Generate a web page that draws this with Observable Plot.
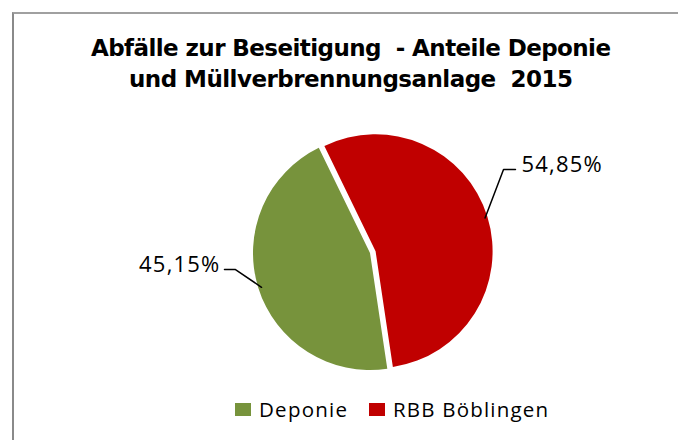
<!DOCTYPE html>
<html><head><meta charset="utf-8">
<script src="https://cdn.jsdelivr.net/npm/d3@7"></script>
<script src="https://cdn.jsdelivr.net/npm/@observablehq/plot@0.6"></script>
<style>
body{margin:0;background:#fff;}
#wrap{position:relative;width:678px;height:440px;overflow:hidden;font-family:"Open Sans",sans-serif;background:#fff;}
#frame{position:absolute;left:12px;top:12px;width:700px;height:500px;border-left:2px solid #8a8a8a;border-top:2px solid #a0a0a0;}
.tl{position:absolute;left:0;width:702px;text-align:center;font-family:"DejaVu Sans",sans-serif;font-weight:bold;font-size:23px;line-height:31px;color:#000;white-space:pre;}
.tl span{display:inline-block;}
#chart{position:absolute;left:0;top:100px;}
.sw{position:absolute;top:403px;width:16px;height:13px;}
.lt{position:absolute;top:395px;font-family:"Open Sans",sans-serif;font-size:20.5px;line-height:28px;color:#000;white-space:pre;}
</style></head>
<body>
<div id="wrap">
  <div id="frame"></div>
  <div id="chart"></div>
</div>
<script>
const titleLines = ["Abfälle zur Beseitigung  - Anteile Deponie", "und Müllverbrennungsanlage  2015"];
const categories = ["Deponie", "RBB Böblingen"];
const shares = [45.15, 54.85];
const labels = ["45,15%", "54,85%"];
const colors = ["#77933C", "#C00000"];

// layout (pixels / radius units)
const titleTops = [33, 64];
const titleWidths = [520, 444];
const legendSwatchX = [235, 369];
const legendTextX = [259, 393];
const legendTextW = [88, 155];
const startAngleDeg = 171.5;
const explode = [0, 0.05];
const leaderElbow = [[-1.154, -0.137], [1.137, 0.718]];
const leaderEnd = [[-1.248, -0.137], [1.239, 0.718]];

const wrap = document.getElementById("wrap");

function fit(span, target) {
  span.style.letterSpacing = "0px";
  const w = span.getBoundingClientRect().width;
  const n = [...span.textContent].length;
  const ls = (target - w) / (n - 1);
  span.style.letterSpacing = ls + "px";
  return ls;
}

titleLines.forEach((t, i) => {
  const div = document.createElement("div");
  div.className = "tl"; div.style.top = titleTops[i] + "px";
  const sp = document.createElement("span"); sp.textContent = t;
  div.appendChild(sp); wrap.appendChild(div);
  const ls = fit(sp, titleWidths[i]);
  sp.style.marginRight = (-ls) + "px";
});

const data = categories.map((c, i) => ({cat: c, value: shares[i], label: labels[i], color: colors[i]}));
const a0 = startAngleDeg * Math.PI / 180;
const arcs = d3.pie().sort(null).value(d => d.value).startAngle(a0).endAngle(a0 + 2 * Math.PI)(data);

function sliceMark(index, scales) {
  const g = d3.create("svg:g");
  const r = scales.x(1) - scales.x(0);
  const arc = d3.arc().innerRadius(0).outerRadius(r);
  arcs.forEach((a, i) => {
    const mid = (a.startAngle + a.endAngle) / 2;
    const e = explode[i];
    const cx = scales.x(e * Math.sin(mid)), cy = scales.y(e * Math.cos(mid));
    g.append("path").attr("d", arc(a)).attr("transform", `translate(${cx},${cy})`).attr("fill", a.data.color);
  });
  return g.node();
}

const leaders = [];
const labelPts = [];
arcs.forEach((a, i) => {
  const mid = (a.startAngle + a.endAngle) / 2;
  const e = explode[i];
  const ox = e * Math.sin(mid), oy = e * Math.cos(mid);
  leaders.push({cat: a.data.cat, x: ox + 0.975 * Math.sin(mid), y: oy + 0.975 * Math.cos(mid)});
  leaders.push({cat: a.data.cat, x: leaderElbow[i][0], y: leaderElbow[i][1]});
  leaders.push({cat: a.data.cat, x: leaderEnd[i][0], y: leaderEnd[i][1]});
  labelPts.push({x: leaderEnd[i][0], y: leaderEnd[i][1], text: a.data.label, side: leaderEnd[i][0] > 0 ? 1 : -1});
});

const plot = Plot.plot({
  width: 678, height: 290, margin: 0,
  x: {domain: [-1, 1], range: [253, 487], axis: null},
  y: {domain: [-1, 1], range: [270, 36], axis: null},
  style: {background: "transparent", overflow: "visible", letterSpacing: "1.2px"},
  marks: [
    sliceMark,
    Plot.line(leaders, {x: "x", y: "y", z: "cat", stroke: "#000", strokeWidth: 1.5}),
    Plot.text(labelPts.filter(d => d.side > 0), {x: "x", y: "y", text: "text", textAnchor: "start", dx: 6, dy: -5, fontSize: 22, fontFamily: "Open Sans", fill: "#000"}),
    Plot.text(labelPts.filter(d => d.side < 0), {x: "x", y: "y", text: "text", textAnchor: "end", dx: -4, dy: -5, fontSize: 22, fontFamily: "Open Sans", fill: "#000"})
  ]
});
document.getElementById("chart").appendChild(plot);

data.forEach((d, i) => {
  const sw = document.createElement("div"); sw.className = "sw";
  sw.style.left = legendSwatchX[i] + "px"; sw.style.background = d.color;
  wrap.appendChild(sw);
  const tx = document.createElement("span"); tx.className = "lt";
  tx.style.left = legendTextX[i] + "px"; tx.textContent = d.cat;
  wrap.appendChild(tx);
  fit(tx, legendTextW[i]);
});
</script>
</body></html>
